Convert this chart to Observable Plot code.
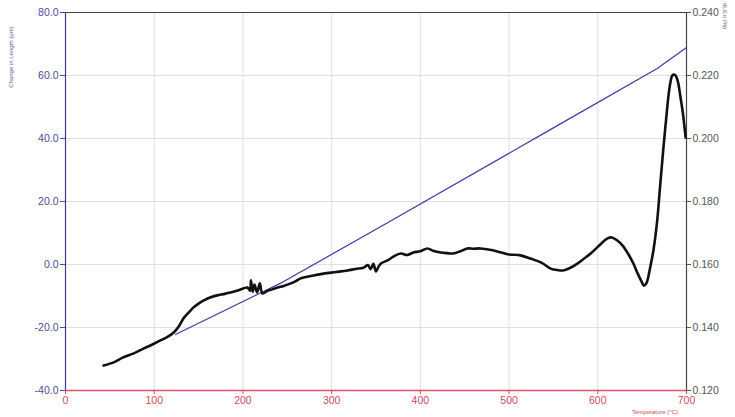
<!DOCTYPE html>
<html>
<head>
<meta charset="utf-8">
<script src="https://cdn.jsdelivr.net/npm/d3@7"></script>
<script src="https://cdn.jsdelivr.net/npm/@observablehq/plot@0.6"></script>
<style>
html,body{margin:0;padding:0;background:#fff;}
#chart{width:735px;height:417px;}
</style>
</head>
<body>
<div id="chart"></div>
<script>
// Black curve: change in length (µm) vs temperature (°C)
const tempBlack = [43,55,65,77,88,98,107,115,122,128,133,139,144,150,156,163,171,178,186,195,205,208,209,211,213,216,219,222,228,233,239,246,254,260,265,278,291,305,318,327,336,341,344,347,350,353,356,363,370,378,385,392,400,408,415,423,430,437,445,453,460,468,480,490,500,513,525,537,547,555,561,568,577,585,592,600,611,616,622,628,634,640,645,649,652,655,659,663,667,670,674,677,680,682,684,687,690,693,696,699];
const lenBlack = [-32.1,-31.0,-29.5,-28.2,-26.7,-25.4,-24.1,-23.0,-21.6,-19.5,-17.1,-15.2,-13.7,-12.4,-11.4,-10.5,-9.8,-9.4,-8.9,-8.2,-7.3,-8.3,-5.0,-8.6,-6.4,-8.9,-6.0,-9.2,-8.3,-7.9,-7.3,-6.8,-6.0,-5.2,-4.4,-3.6,-2.9,-2.4,-1.9,-1.4,-1.0,-0.2,-1.5,0.2,-2.2,-0.6,0.4,1.3,2.6,3.5,3.0,3.8,4.2,5.1,4.3,3.8,3.6,3.5,4.2,5.1,5.0,5.1,4.6,3.9,3.2,2.9,1.8,0.5,-1.3,-1.8,-1.9,-1.2,0.3,2.0,3.5,5.6,8.3,8.6,7.6,6.0,3.5,0.4,-2.9,-5.2,-6.7,-5.8,-1.0,5.0,14.0,24.0,37.1,46.0,54.3,58.0,60.0,60.2,58.4,53.5,47.9,40.3];
// Blue curve: right-axis quantity vs temperature (°C)
const tempBlue = [124,242,366,547,667,700];
const alphaBlue = [0.1378,0.1540,0.1737,0.2029,0.2222,0.2289];
// Tick values
const leftTicks = [-40,-20,0,20,40,60,80];
const rightTicks = [0.120,0.140,0.160,0.180,0.200,0.220,0.240];
const xTicks = [0,100,200,300,400,500,600,700];

// right axis maps linearly onto left axis: left = 1000*right - 160
const toLeft = r => 1000 * r - 160;

const black = tempBlack.map((t, i) => ({t, v: lenBlack[i]}));
const blue = tempBlue.map((t, i) => ({t, v: toLeft(alphaBlue[i])}));

const plot = Plot.plot({
  width: 735,
  height: 417,
  marginLeft: 65,
  marginRight: 49,
  marginTop: 12,
  marginBottom: 27,
  style: {fontFamily: "Liberation Sans, Arial, sans-serif", fontSize: "10.5px", background: "#fff"},
  x: {domain: [0, 700]},
  y: {domain: [-40, 80]},
  marks: [
    Plot.gridX(xTicks, {stroke: "#e0e0e0", strokeOpacity: 1}),
    Plot.gridY(leftTicks, {stroke: "#e0e0e0", strokeOpacity: 1}),
    Plot.ruleY([80], {stroke: "#444", strokeWidth: 1}),
    Plot.ruleX([700], {stroke: "#444", strokeWidth: 1.2}),
    Plot.ruleX([0], {stroke: "#3a3a9a", strokeWidth: 1.2}),
    Plot.ruleY([-40], {stroke: "#e0506a", strokeWidth: 1.5}),
    Plot.axisY(leftTicks, {anchor: "left", tickFormat: d => d.toFixed(1), color: "#4a4aa0", tickSize: 5, tickPadding: 2, label: null}),
    Plot.axisY(rightTicks.map(toLeft), {anchor: "right", tickFormat: d => ((d + 160) / 1000).toFixed(3), color: "#555", tickSize: 4, tickPadding: 2, label: null}),
    Plot.axisX(xTicks, {anchor: "bottom", color: "#d04a60", tickSize: 4, tickPadding: 2, label: null}),
    Plot.line(blue, {x: "t", y: "v", stroke: "#3a3aa8", strokeWidth: 1.2}),
    Plot.line(black, {x: "t", y: "v", stroke: "#111", strokeWidth: 2.6, curve: "catmull-rom"})
  ]
});
document.getElementById("chart").appendChild(plot);

const svg = d3.select(plot);
svg.append("text")
  .attr("transform", "translate(13,57) rotate(-90)")
  .attr("text-anchor", "middle")
  .attr("font-size", 6)
  .attr("fill", "#5a5aa8")
  .text("Change in Length (µm)");
svg.append("text")
  .attr("transform", "translate(723,16) rotate(90)")
  .attr("text-anchor", "middle")
  .attr("font-size", 6)
  .attr("fill", "#666")
  .text("dL/Lo (%)");
svg.append("text")
  .attr("x", 655)
  .attr("y", 414)
  .attr("text-anchor", "middle")
  .attr("font-size", 6)
  .attr("fill", "#d04a60")
  .text("Temperature (°C)");
</script>
</body>
</html>
